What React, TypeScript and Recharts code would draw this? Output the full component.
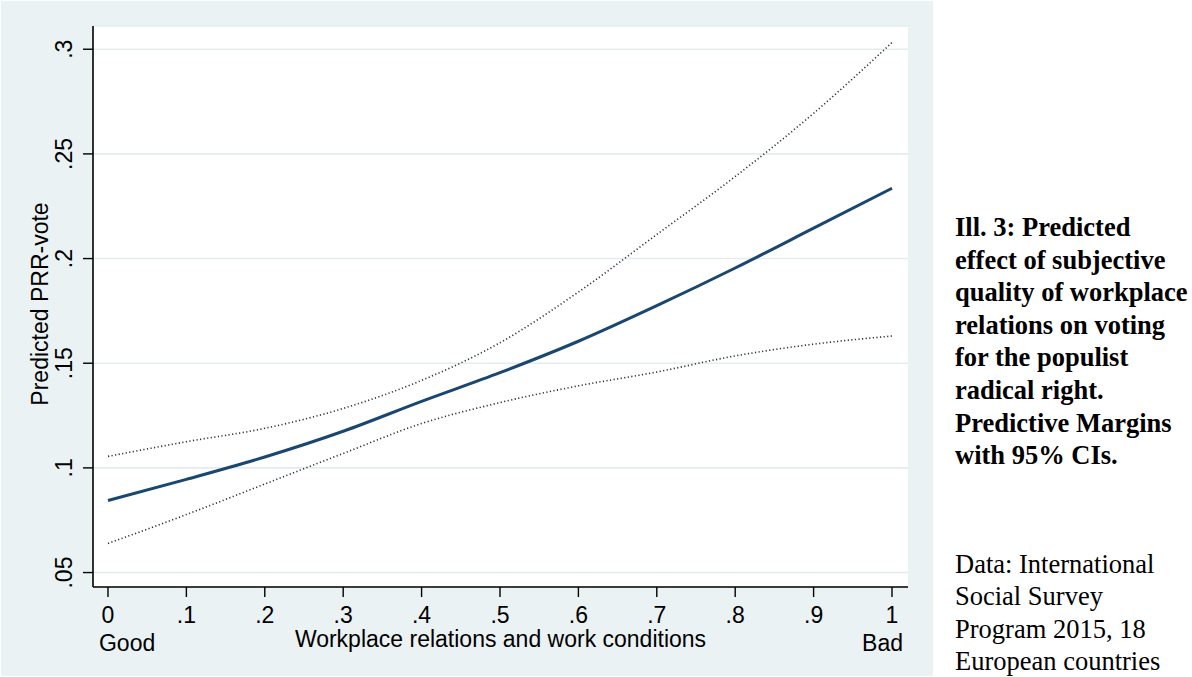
import React from "react";
import { LineChart, Line, XAxis, YAxis, CartesianGrid, Label } from "recharts";

const xValues = [0, 0.1, 0.2, 0.3, 0.4, 0.5, 0.6, 0.7, 0.8, 0.9, 1];
const predicted = [0.0844, 0.0945, 0.1052, 0.1175, 0.1318, 0.1455, 0.1605, 0.1775, 0.1955, 0.2145, 0.2336];
const upperCI = [0.1055, 0.1125, 0.1189, 0.1284, 0.1418, 0.1598, 0.184, 0.2115, 0.2392, 0.2694, 0.3032];
const lowerCI = [0.0639, 0.0777, 0.0923, 0.1069, 0.1212, 0.1312, 0.1392, 0.1458, 0.1535, 0.1591, 0.163];

const xTicks = [0, 0.1, 0.2, 0.3, 0.4, 0.5, 0.6, 0.7, 0.8, 0.9, 1];
const xTickLabels = ["0", ".1", ".2", ".3", ".4", ".5", ".6", ".7", ".8", ".9", "1"];
const yTicks = [0.05, 0.1, 0.15, 0.2, 0.25, 0.3];
const yTickLabels = [".05", ".1", ".15", ".2", ".25", ".3"];

const xTitle = "Workplace relations and work conditions";
const yTitle = "Predicted PRR-vote";
const lowEndLabel = "Good";
const highEndLabel = "Bad";

const captionBold = [
  "Ill. 3: Predicted",
  "effect of subjective",
  "quality of workplace",
  "relations on voting",
  "for the populist",
  "radical right.",
  "Predictive Margins",
  "with 95% CIs.",
];
const captionSource = [
  "Data: International",
  "Social Survey",
  "Program 2015, 18",
  "European countries",
];

const data = xValues.map((x, i) => ({
  x,
  predicted: predicted[i],
  upper: upperCI[i],
  lower: lowerCI[i],
}));

const SANS = '"Liberation Sans", Arial, Helvetica, sans-serif';
const SERIF = '"Liberation Serif", "Times New Roman", serif';
const FS = 23;

const XTick = (props: any) => {
  const { x, y, payload } = props;
  const idx = xTicks.findIndex((t) => Math.abs(t - payload.value) < 1e-9);
  const label = idx >= 0 ? xTickLabels[idx] : String(payload.value);
  return (
    <g>
      <text x={x} y={y + 24} textAnchor="middle" fontSize={FS} fontFamily={SANS} fill="#000">
        {label}
      </text>
      {payload.value === 0 && (
        <text x={x - 9} y={y + 52} textAnchor="start" fontSize={FS} fontFamily={SANS} fill="#000">
          {lowEndLabel}
        </text>
      )}
      {payload.value === 1 && (
        <text x={x + 11} y={y + 52} textAnchor="end" fontSize={FS} fontFamily={SANS} fill="#000">
          {highEndLabel}
        </text>
      )}
    </g>
  );
};

const YTick = (props: any) => {
  const { y, payload } = props;
  const idx = yTicks.findIndex((t) => Math.abs(t - payload.value) < 1e-9);
  const label = idx >= 0 ? yTickLabels[idx] : String(payload.value);
  const tx = 71;
  return (
    <text
      x={tx}
      y={y}
      transform={`rotate(-90 ${tx} ${y})`}
      textAnchor="middle"
      fontSize={FS}
      fontFamily={SANS}
      fill="#000"
    >
      {label}
    </text>
  );
};

export default function App() {
  return (
    <div style={{ position: "relative", width: 1192, height: 677, background: "#fff", overflow: "hidden" }}>
      <style>{"body{margin:0;}"}</style>
      <div style={{ position: "absolute", left: 1, top: 1, width: 932, height: 675, background: "#EAF2F3" }}>
        <LineChart
          width={932}
          height={675}
          data={data}
          margin={{ top: 25, right: 25, bottom: 9, left: 12 }}
        >
          <CartesianGrid vertical={false} horizontal={true} stroke="#E4ECEE" strokeWidth={1.6} fill="#ffffff" fillOpacity={1} />
          <XAxis
            dataKey="x"
            type="number"
            domain={[-0.0191, 1.0204]}
            ticks={xTicks}
            allowDataOverflow
            height={80}
            tickSize={10}
            tickMargin={2}
            axisLine={{ stroke: "#000", strokeWidth: 1.6 }}
            tickLine={{ stroke: "#000", strokeWidth: 1.4 }}
            tick={<XTick />}
            interval={0}
          >
            <Label
              content={(p: any) => {
                const vb = p.viewBox || { x: 92, width: 815, y: 586 };
                return (
                  <text
                    x={vb.x + vb.width / 2}
                    y={646}
                    textAnchor="middle"
                    fontSize={FS}
                    fontFamily={SANS}
                    fill="#000"
                  >
                    {xTitle}
                  </text>
                );
              }}
            />
          </XAxis>
          <YAxis
            type="number"
            domain={[0.0431, 0.3111]}
            ticks={yTicks}
            allowDataOverflow
            width={80}
            tickSize={10}
            axisLine={{ stroke: "#000", strokeWidth: 1.6 }}
            tickLine={{ stroke: "#000", strokeWidth: 1.4 }}
            tick={<YTick />}
            interval={0}
          >
            <Label
              content={() => (
                <text
                  x={46.5}
                  y={303}
                  transform="rotate(-90 46.5 303)"
                  textAnchor="middle"
                  fontSize={FS}
                  fontFamily={SANS}
                  fill="#000"
                >
                  {yTitle}
                </text>
              )}
            />
          </YAxis>
          <Line
            type="monotone"
            dataKey="upper"
            stroke="#2e333a"
            strokeWidth={1.6}
            strokeDasharray="1.2 2.4"
            dot={false}
            activeDot={false}
            isAnimationActive={false}
          />
          <Line
            type="monotone"
            dataKey="lower"
            stroke="#2e333a"
            strokeWidth={1.6}
            strokeDasharray="1.2 2.4"
            dot={false}
            activeDot={false}
            isAnimationActive={false}
          />
          <Line
            type="monotone"
            dataKey="predicted"
            stroke="#1A476F"
            strokeWidth={3}
            dot={false}
            activeDot={false}
            isAnimationActive={false}
          />
        </LineChart>
      </div>
      <div
        style={{
          position: "absolute",
          left: 955,
          top: 211,
          fontFamily: SERIF,
          fontWeight: "bold",
          fontSize: 26.5,
          lineHeight: "32.6px",
          color: "#000",
          whiteSpace: "nowrap",
        }}
      >
        {captionBold.map((t, i) => (
          <div key={i}>{t}</div>
        ))}
      </div>
      <div
        style={{
          position: "absolute",
          left: 955,
          top: 548,
          fontFamily: SERIF,
          fontSize: 26.5,
          lineHeight: "32.4px",
          color: "#000",
          whiteSpace: "nowrap",
        }}
      >
        {captionSource.map((t, i) => (
          <div key={i}>{t}</div>
        ))}
      </div>
    </div>
  );
}
